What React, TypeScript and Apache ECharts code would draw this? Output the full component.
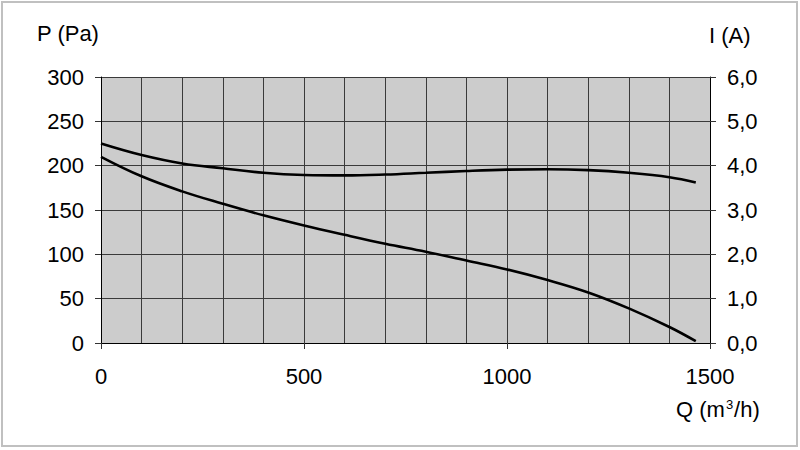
import React, { useEffect, useRef } from "react";
import * as echarts from "echarts";

const flowQ = [0, 100, 200, 300, 400, 500, 600, 700, 800, 900, 1000, 1100, 1200, 1300, 1400, 1465];
const pressurePa = [210, 188, 171, 157, 144, 132.5, 122, 112, 103, 93, 83, 71, 57, 39, 18, 2];
const currentA = [4.5, 4.24, 4.05, 3.94, 3.84, 3.79, 3.78, 3.8, 3.84, 3.88, 3.91, 3.92, 3.9, 3.84, 3.74, 3.62];

const FONT = "'Liberation Sans', Arial, sans-serif";

export default function App() {
  const ref = useRef<HTMLDivElement>(null);
  useEffect(() => {
    if (!ref.current) return;
    const chart = echarts.init(ref.current, undefined, { renderer: "svg" });
    const labelStyle = { color: "#000", fontSize: 22, fontFamily: FONT };
    chart.setOption({
      animation: false,
      backgroundColor: "#fff",
      textStyle: { fontFamily: FONT },
      grid: {
        left: 101,
        right: 90,
        top: 77,
        bottom: 107,
        show: true,
        backgroundColor: "#cccccc",
        borderWidth: 0,
      },
      graphic: [
        {
          type: "rect",
          shape: { x: 2, y: 2, width: 795, height: 444 },
          style: { fill: "none", stroke: "#c0c0c0", lineWidth: 2 },
          silent: true,
        },
        { type: "text", left: 37, top: 22, style: { text: "P (Pa)", fill: "#000", font: `22px ${FONT}` } },
        { type: "text", left: 709, top: 24, style: { text: "I (A)", fill: "#000", font: `22px ${FONT}` } },
        {
          type: "text",
          left: 676,
          top: 398,
          style: {
            text: "Q (m{sup|3}/h)",
            fill: "#000",
            font: `22px ${FONT}`,
            rich: {
              sup: { fontSize: 13, fontFamily: FONT, fill: "#000", padding: [0, 1, 10, 1], verticalAlign: "top" },
            },
          },
        },
      ],
      xAxis: {
        type: "value",
        min: 0,
        max: 1500,
        interval: 500,
        axisLine: { show: true, lineStyle: { color: "#000", width: 1 } },
        axisTick: { show: true, length: 6, lineStyle: { color: "#333" } },
        axisLabel: { ...labelStyle, margin: 22, formatter: (v: number) => String(v) },
        splitLine: { show: true, lineStyle: { color: "#3a3a3a", width: 1 } },
        minorTick: { show: false, splitNumber: 5 },
        minorSplitLine: { show: true, lineStyle: { color: "#3a3a3a", width: 1 } },
      },
      yAxis: [
        {
          type: "value",
          min: 0,
          max: 300,
          interval: 50,
          axisLine: { show: true, lineStyle: { color: "#000", width: 1 } },
          axisTick: { show: true, length: 6, lineStyle: { color: "#333" } },
          axisLabel: { ...labelStyle, margin: 17 },
          splitLine: { show: true, lineStyle: { color: "#3a3a3a", width: 1 } },
        },
        {
          type: "value",
          min: 0,
          max: 6,
          interval: 1,
          position: "right",
          axisLine: { show: true, lineStyle: { color: "#000", width: 1 } },
          axisTick: { show: true, length: 6, lineStyle: { color: "#333" } },
          axisLabel: {
            ...labelStyle,
            margin: 17,
            formatter: (v: number) => v.toFixed(1).replace(".", ","),
          },
          splitLine: { show: false },
        },
      ],
      series: [
        {
          name: "P",
          type: "line",
          yAxisIndex: 0,
          data: flowQ.map((q, i) => [q, pressurePa[i]]),
          smooth: 0.4,
          showSymbol: false,
          lineStyle: { color: "#000", width: 2.6 },
        },
        {
          name: "I",
          type: "line",
          yAxisIndex: 1,
          data: flowQ.map((q, i) => [q, currentA[i]]),
          smooth: 0.4,
          showSymbol: false,
          lineStyle: { color: "#000", width: 2.6 },
        },
      ],
    });
    return () => chart.dispose();
  }, []);
  return (
    <div
      ref={ref}
      style={{ position: "fixed", left: 0, top: 0, width: 800, height: 450 }}
    />
  );
}
